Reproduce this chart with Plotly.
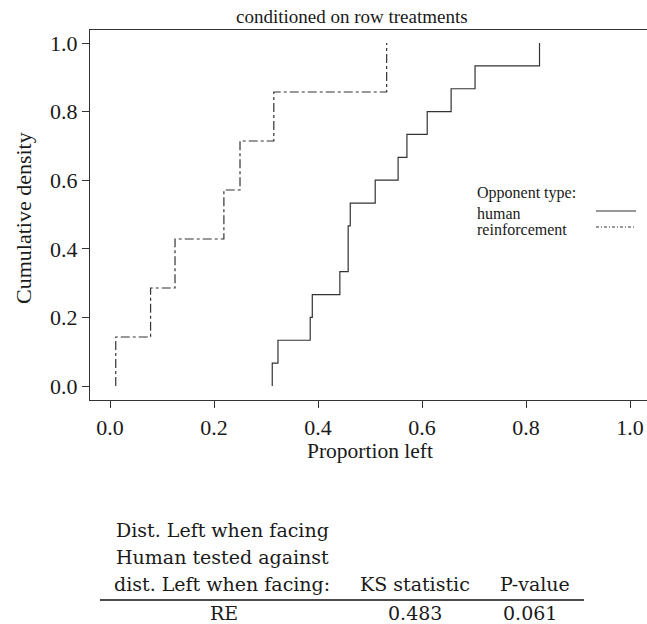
import plotly.graph_objects as go

# ---------------- data ----------------
human_left = [0.312, 0.323, 0.385, 0.389, 0.442, 0.458, 0.458, 0.462,
              0.510, 0.554, 0.571, 0.610, 0.656, 0.702, 0.826]
reinf_left = [0.011, 0.078, 0.125, 0.219, 0.250, 0.315, 0.532]
series_names = ["human", "reinforcement"]
x_ticks = [0.0, 0.2, 0.4, 0.6, 0.8, 1.0]
y_ticks = [0.0, 0.2, 0.4, 0.6, 0.8, 1.0]
table_header_col1 = ["Dist. Left when facing", "Human tested against", "dist. Left when facing:"]
table_header_rest = ["KS statistic", "P-value"]
table_row = ["RE", "0.483", "0.061"]

W, H = 647, 624
L, R, T, B = 90, 0, 30, 224
PW, PH = W - L - R, H - T - B

def px(x, y):
    return (x - L) / PW, (H - B - y) / PH

def ecdf(vals):
    v = sorted(vals)
    n = len(v)
    xs = [v[0]] + v
    ys = [0.0] + [(i + 1) / n for i in range(n)]
    return xs, ys

SER = "Liberation Serif, Times New Roman, serif"
TAB = "DejaVu Serif, serif"
LC = "#333333"

fig = go.Figure()
hx, hy = ecdf(human_left)
rx, ry = ecdf(reinf_left)
fig.add_trace(go.Scatter(x=hx, y=hy, mode="lines", line_shape="hv",
                         line=dict(color=LC, width=1.2), name=series_names[0],
                         showlegend=False))
fig.add_trace(go.Scatter(x=rx, y=ry, mode="lines", line_shape="hv",
                         line=dict(color=LC, width=1.2, dash="dashdot"),
                         name=series_names[1], showlegend=False))

ann = []
shapes = []

def text(x, y, s, size, font=SER, xanchor="center"):
    xp, yp = px(x, y)
    ann.append(dict(x=xp, y=yp, xref="paper", yref="paper", text=s,
                    showarrow=False, xanchor=xanchor, yanchor="middle",
                    font=dict(family=font, size=size, color="#1a1a1a")))

# title and axis titles
text(352, 17, "conditioned on row treatments", 19)
text(370, 451, "Proportion left", 21.5)
xp, yp = px(24, 218)
ann.append(dict(x=xp, y=yp, xref="paper", yref="paper", text="Cumulative density",
                showarrow=False, textangle=-90, xanchor="center", yanchor="middle",
                font=dict(family=SER, size=22, color="#1a1a1a")))

# legend
text(475, 193, "Opponent type:", 16, xanchor="left")
text(475, 213, series_names[0], 16, xanchor="left")
text(475, 229, series_names[1], 16, xanchor="left")
for (y, dash) in [(211, "solid"), (227, "3px,2px,1px,2px")]:
    x0, y0 = px(596, y)
    x1, _ = px(636, y)
    shapes.append(dict(type="line", xref="paper", yref="paper", x0=x0, x1=x1,
                       y0=y0, y1=y0, line=dict(color=LC, width=1.2, dash=dash)))

# table
for s, y in zip(table_header_col1, [530, 557, 584]):
    text(222, y, s, 19, font=TAB)
text(415, 584, table_header_rest[0], 19, font=TAB)
text(535, 584, table_header_rest[1], 19, font=TAB)
for s, x in zip(table_row, [224, 415, 530]):
    text(x, 613, s, 19, font=TAB)
x0, y0 = px(100, 600)
x1, _ = px(584, 600)
shapes.append(dict(type="line", xref="paper", yref="paper", x0=x0, x1=x1,
                   y0=y0, y1=y0, line=dict(color="#111111", width=1.5)))

fig.update_layout(
    width=W, height=H, margin=dict(l=L, r=R, t=T, b=B, pad=0),
    paper_bgcolor="white", plot_bgcolor="white",
    annotations=ann, shapes=shapes, showlegend=False,
    xaxis=dict(range=[-0.0385, 1.0327], tickvals=x_ticks, tickformat=".1f",
               ticks="outside", ticklen=7, tickcolor=LC, showline=True,
               linecolor=LC, linewidth=1.3, mirror=True, showgrid=False,
               zeroline=False, tickfont=dict(family=SER, size=22, color="#1a1a1a")),
    yaxis=dict(range=[-0.0408, 1.0379], tickvals=y_ticks, tickformat=".1f",
               ticks="outside", ticklen=7, tickcolor=LC, showline=True,
               linecolor=LC, linewidth=1.3, showgrid=False, zeroline=False,
               tickfont=dict(family=SER, size=22, color="#1a1a1a")),
)
fig.write_html("out.html")
